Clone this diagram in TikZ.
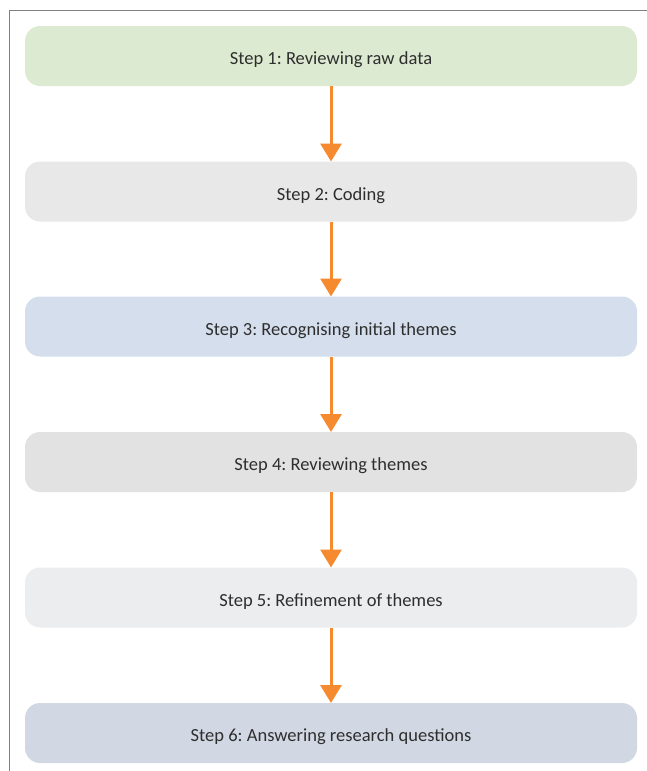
\documentclass[tikz,border=0pt]{standalone}
\usepackage{fontspec}
\setmainfont{Carlito}
\usetikzlibrary{arrows.meta}
\definecolor{frame}{HTML}{808080}
\definecolor{arr}{HTML}{F58A2E}
\definecolor{txt}{HTML}{2E2E2E}
\definecolor{c1}{HTML}{DDEAD2}
\definecolor{c2}{HTML}{E7E8E7}
\definecolor{c3}{HTML}{D5DEEC}
\definecolor{c4}{HTML}{E1E2E1}
\definecolor{c5}{HTML}{ECEDEE}
\definecolor{c6}{HTML}{D2D8E3}
\tikzset{
  stepbox/.style={rectangle, rounded corners=15pt, minimum width=612pt, minimum height=60pt,
    inner sep=0pt, outer sep=0pt, text height=17pt, text depth=0pt, text=txt,
    font=\fontsize{18.5}{22}\selectfont\frenchspacing},
  flow/.style={arr, line width=3pt, -{Triangle[length=18pt,width=21pt]}}
}
\begin{document}
\begin{tikzpicture}[x=1pt,y=1pt]
\useasboundingbox (0,0) rectangle (647,-771);
\draw[frame, line width=1.5pt] (9.5,-771) -- (9.5,-10.5) -- (647,-10.5);
\node[stepbox, fill=c1] (s1) at (331,-56) {Step 1: Reviewing raw data};
\node[stepbox, fill=c2] (s2) at (331,-191.5) {Step 2: Coding};
\node[stepbox, fill=c3] (s3) at (331,-326.5) {Step 3: Recognising initial themes};
\node[stepbox, fill=c4] (s4) at (331,-462) {Step 4: Reviewing themes};
\node[stepbox, fill=c5] (s5) at (331,-597.5) {Step 5: Refinement of themes};
\node[stepbox, fill=c6] (s6) at (331,-733) {Step 6: Answering research questions};
\draw[flow] (s1.south) -- (s2.north);
\draw[flow] (s2.south) -- (s3.north);
\draw[flow] (s3.south) -- (s4.north);
\draw[flow] (s4.south) -- (s5.north);
\draw[flow] (s5.south) -- (s6.north);
\end{tikzpicture}
\end{document}
